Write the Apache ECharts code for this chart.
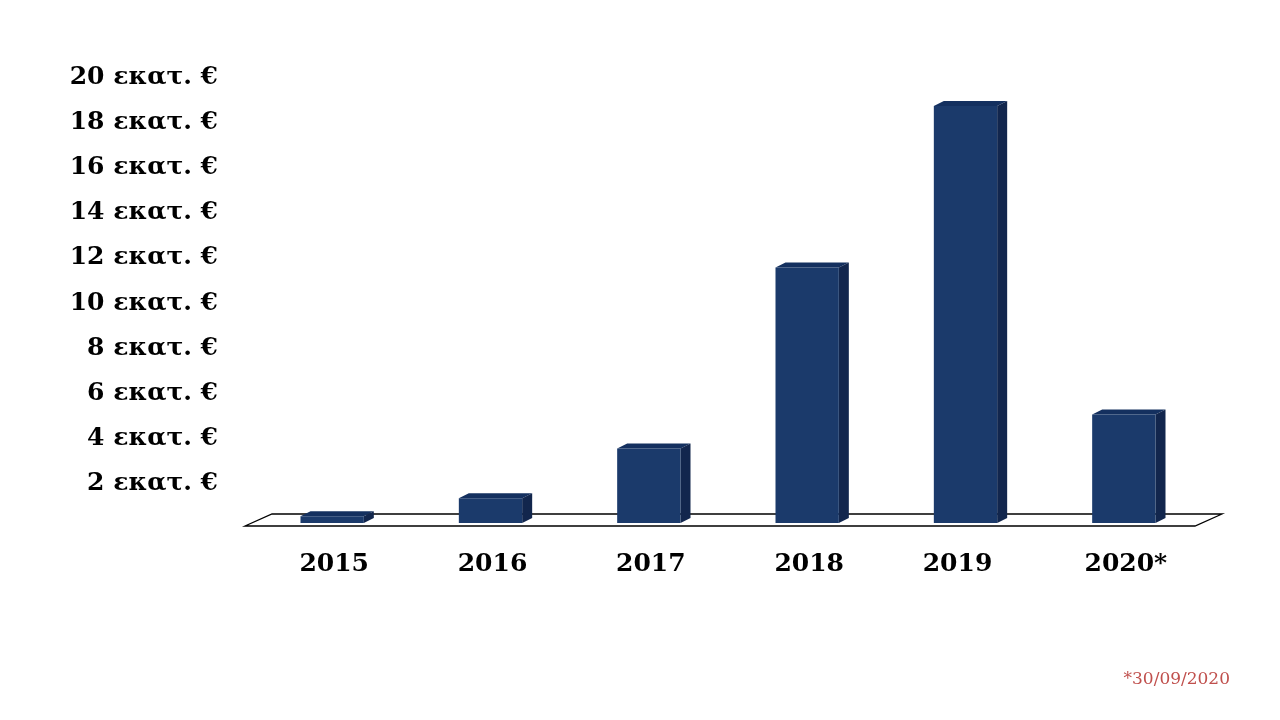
<!DOCTYPE html>
<html><head><meta charset="utf-8">
<style>html,body{margin:0;padding:0;background:#fff}#c{width:1280px;height:720px}</style>
<script src="https://cdn.jsdelivr.net/npm/echarts@6/dist/echarts.min.js"></script>
</head><body><div id="c"></div>
<script>
const categories = ['2015','2016','2017','2018','2019','2020*'];
const values = [0.3,1.1,3.3,11.3,18.45,4.8];
const unit = ' εκατ. €';
const footnote = '*30/09/2020';
const FONT = '"DejaVu Serif", serif';
const DX = 10, DY = 5;
const chart = echarts.init(document.getElementById('c'), null, {renderer:'canvas'});
chart.setOption({
  animation:false,
  backgroundColor:'#fff',
  title:{text:footnote,right:45,top:666,textStyle:{fontFamily:FONT,fontSize:17,fontWeight:'normal',color:'#c0504d'}},
  grid:{left:253,width:950,top:71,height:452},
  xAxis:{type:'category',data:categories,
    axisLine:{show:false},axisTick:{show:false},
    axisLabel:{margin:29,interval:0,fontFamily:FONT,fontWeight:'bold',fontSize:25,color:'#000',
      formatter:v=>v==='2019'?'{s|'+v+'}':'{n|'+v+'}',
      rich:{
        n:{fontFamily:FONT,fontWeight:'bold',fontSize:25,color:'#000',padding:[0,0,0,4]},
        s:{fontFamily:FONT,fontWeight:'bold',fontSize:25,color:'#000',padding:[0,16,0,0]}
      }}},
  yAxis:{type:'value',min:0,max:20,interval:2,
    axisLine:{show:false},axisTick:{show:false},splitLine:{show:false},
    axisLabel:{margin:35,verticalAlign:'top',lineHeight:12,fontFamily:FONT,fontWeight:'bold',fontSize:25,color:'#000',
      formatter:v=>v===0?'':v+unit}},
  series:[
    {type:'custom',z:1,silent:true,data:[[0,0]],
     renderItem:(p,api)=>{
       const c=p.coordSys, y=c.y+c.height, l=c.x, r=c.x+c.width;
       return {type:'polygon',shape:{points:[[l-8,y+3],[r-8,y+3],[r+19,y-9],[l+19,y-9]]},
         style:{fill:'#fff',stroke:'#000',lineWidth:1.3}};
     }},
    {type:'custom',z:2,silent:true,data:values.map((v,i)=>[i,v]),
     renderItem:(p,api)=>{
       const top=api.coord([api.value(0),api.value(1)]);
       const base=api.coord([api.value(0),0]);
       const w=api.size([1,0])[0]*0.4;
       const x0=top[0]-w/2,x1=top[0]+w/2,y0=top[1],y1=base[1];
       return {type:'group',children:[
         {type:'polygon',shape:{points:[[x0,y0],[x1,y0],[x1+DX,y0-DY],[x0+DX,y0-DY]]},style:{fill:'#14305f'}},
         {type:'polygon',shape:{points:[[x1,y0],[x1+DX,y0-DY],[x1+DX,y1-DY],[x1,y1]]},style:{fill:'#12264d'}},
         {type:'rect',shape:{x:x0,y:y0,width:w,height:y1-y0},style:{fill:'#1b3a6b'}}
       ]};
     }}
  ]
});
</script></body></html>
